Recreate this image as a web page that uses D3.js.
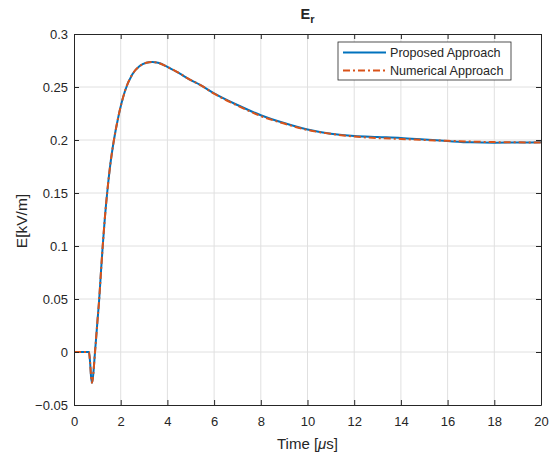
<!DOCTYPE html>
<html>
<head>
<meta charset="utf-8">
<script src="https://cdn.jsdelivr.net/npm/d3@7"></script>
<style>
  body { margin: 0; background: #fff; }
  text { font-family: "Liberation Sans", Arial, sans-serif; fill: #262626; }
</style>
</head>
<body>
<div id="container"></div>
<script>
// time in microseconds
const time = [0, 0.5, 0.64, 0.69, 0.73, 0.77, 0.81, 0.9, 1.0, 1.08, 1.15, 1.23, 1.32, 1.42, 1.55, 1.71, 1.9, 2.18, 2.5, 2.8, 3.1, 3.35, 3.6, 4.0, 4.5, 5.0, 5.4, 6.0, 7.0, 8.0, 9.0, 10.0, 11.0, 12.0, 13.0, 14.0, 15.0, 16.0, 17.0, 18.0, 19.0, 20.0];
const proposed = [0, 0, 0, -0.01, -0.023, -0.029, -0.024, 0, 0.028, 0.05, 0.074, 0.1, 0.126, 0.15, 0.176, 0.2, 0.222, 0.246, 0.262, 0.2695, 0.2728, 0.2735, 0.2728, 0.269, 0.263, 0.2565, 0.252, 0.244, 0.233, 0.2234, 0.216, 0.210, 0.206, 0.2037, 0.2028, 0.202, 0.2005, 0.199, 0.1978, 0.1975, 0.1976, 0.1978];
const numerical = [0, 0, 0, -0.01, -0.023, -0.029, -0.024, 0, 0.028, 0.05, 0.074, 0.1, 0.126, 0.15, 0.176, 0.2, 0.222, 0.246, 0.262, 0.2695, 0.2728, 0.2735, 0.2728, 0.269, 0.263, 0.2565, 0.252, 0.2437, 0.2325, 0.2226, 0.2155, 0.2095, 0.2058, 0.2033, 0.2018, 0.201, 0.2, 0.1992, 0.1985, 0.198, 0.1978, 0.1976];
const xTicks = [0, 2, 4, 6, 8, 10, 12, 14, 16, 18, 20];
const yTicks = [-0.05, 0, 0.05, 0.1, 0.15, 0.2, 0.25, 0.3];
const seriesNames = ["Proposed Approach", "Numerical Approach"];

const width = 558, height = 456;
const margin = { top: 34, right: 17, bottom: 51, left: 74 };

const svg = d3.select("#container").append("svg")
  .attr("width", width).attr("height", height);

const x = d3.scaleLinear().domain([0, 20]).range([margin.left, width - margin.right]);
const y = d3.scaleLinear().domain([-0.05, 0.3]).range([height - margin.bottom, margin.top]);

// grid
svg.append("g").selectAll("line").data(xTicks.slice(1, -1)).join("line")
  .attr("x1", d => x(d)).attr("x2", d => x(d))
  .attr("y1", y(0.3)).attr("y2", y(-0.05))
  .attr("stroke", "#e0e0e0").attr("stroke-width", 1);
svg.append("g").selectAll("line").data(yTicks.slice(1, -1)).join("line")
  .attr("y1", d => y(d)).attr("y2", d => y(d))
  .attr("x1", x(0)).attr("x2", x(20))
  .attr("stroke", "#e0e0e0").attr("stroke-width", 1);

// lines
const line = d3.line().x(d => x(d[0])).y(d => y(d[1])).curve(d3.curveMonotoneX);
svg.append("path").datum(time.map((t, i) => [t, proposed[i]]))
  .attr("d", line).attr("fill", "none")
  .attr("stroke", "#0072BD").attr("stroke-width", 2);
svg.append("path").datum(time.map((t, i) => [t, numerical[i]]))
  .attr("d", line).attr("fill", "none")
  .attr("stroke", "#D95319").attr("stroke-width", 2)
  .attr("stroke-dasharray", "7,3,2,3");

// axes (MATLAB style, ticks inside, box on)
const tickLen = 5;
const axisColor = "#262626";
svg.append("g").attr("transform", `translate(0,${y(-0.05)})`)
  .call(d3.axisBottom(x).tickValues(xTicks).tickSizeInner(-tickLen).tickSizeOuter(0).tickPadding(12))
  .call(g => g.selectAll("text").attr("font-size", 13).attr("fill", "#3c3c3c"));
svg.append("g").attr("transform", `translate(${x(0)},0)`)
  .call(d3.axisLeft(y).tickValues(yTicks).tickFormat(d3.format("~g")).tickSizeInner(-tickLen).tickSizeOuter(0).tickPadding(6))
  .call(g => g.selectAll("text").attr("font-size", 13).attr("fill", "#3c3c3c"));
svg.append("g").attr("transform", `translate(0,${y(0.3)})`)
  .call(d3.axisTop(x).tickValues(xTicks).tickSizeInner(-tickLen).tickSizeOuter(0).tickFormat(""));
svg.append("g").attr("transform", `translate(${x(20)},0)`)
  .call(d3.axisRight(y).tickValues(yTicks).tickSizeInner(-tickLen).tickSizeOuter(0).tickFormat(""));
svg.selectAll(".domain, .tick line").attr("stroke", axisColor);

// title
const title = svg.append("text").attr("x", (x(0) + x(20)) / 2).attr("y", 19)
  .attr("text-anchor", "middle").attr("font-size", 14.5).attr("font-weight", "bold");
title.append("tspan").text("E");
title.append("tspan").text("r").attr("font-size", 11).attr("dy", 4);

// axis labels
svg.append("text").attr("x", (x(0) + x(20)) / 2).attr("y", 449)
  .attr("text-anchor", "middle").attr("font-size", 15)
  .html('Time [<tspan font-style="italic">μ</tspan>s]');
svg.append("text").attr("transform", "translate(27,221) rotate(-90)")
  .attr("text-anchor", "middle").attr("font-size", 15.5).text("E[kV/m]");

// legend
const lg = svg.append("g").attr("transform", "translate(338,42)");
lg.append("rect").attr("width", 173).attr("height", 38)
  .attr("fill", "#fff").attr("stroke", axisColor).attr("stroke-width", 0.8);
const colors = ["#0072BD", "#D95319"];
seriesNames.forEach((name, i) => {
  const row = lg.append("g").attr("transform", `translate(0,${10.5 + i * 18})`);
  row.append("line").attr("x1", 5).attr("x2", 48).attr("y1", 0).attr("y2", 0)
    .attr("stroke", colors[i]).attr("stroke-width", 2)
    .attr("stroke-dasharray", i === 1 ? "7,3,2,3" : null);
  row.append("text").attr("x", 52).attr("y", 4.5).attr("font-size", 12.6).attr("fill", "#000").text(name);
});
</script>
</body>
</html>
